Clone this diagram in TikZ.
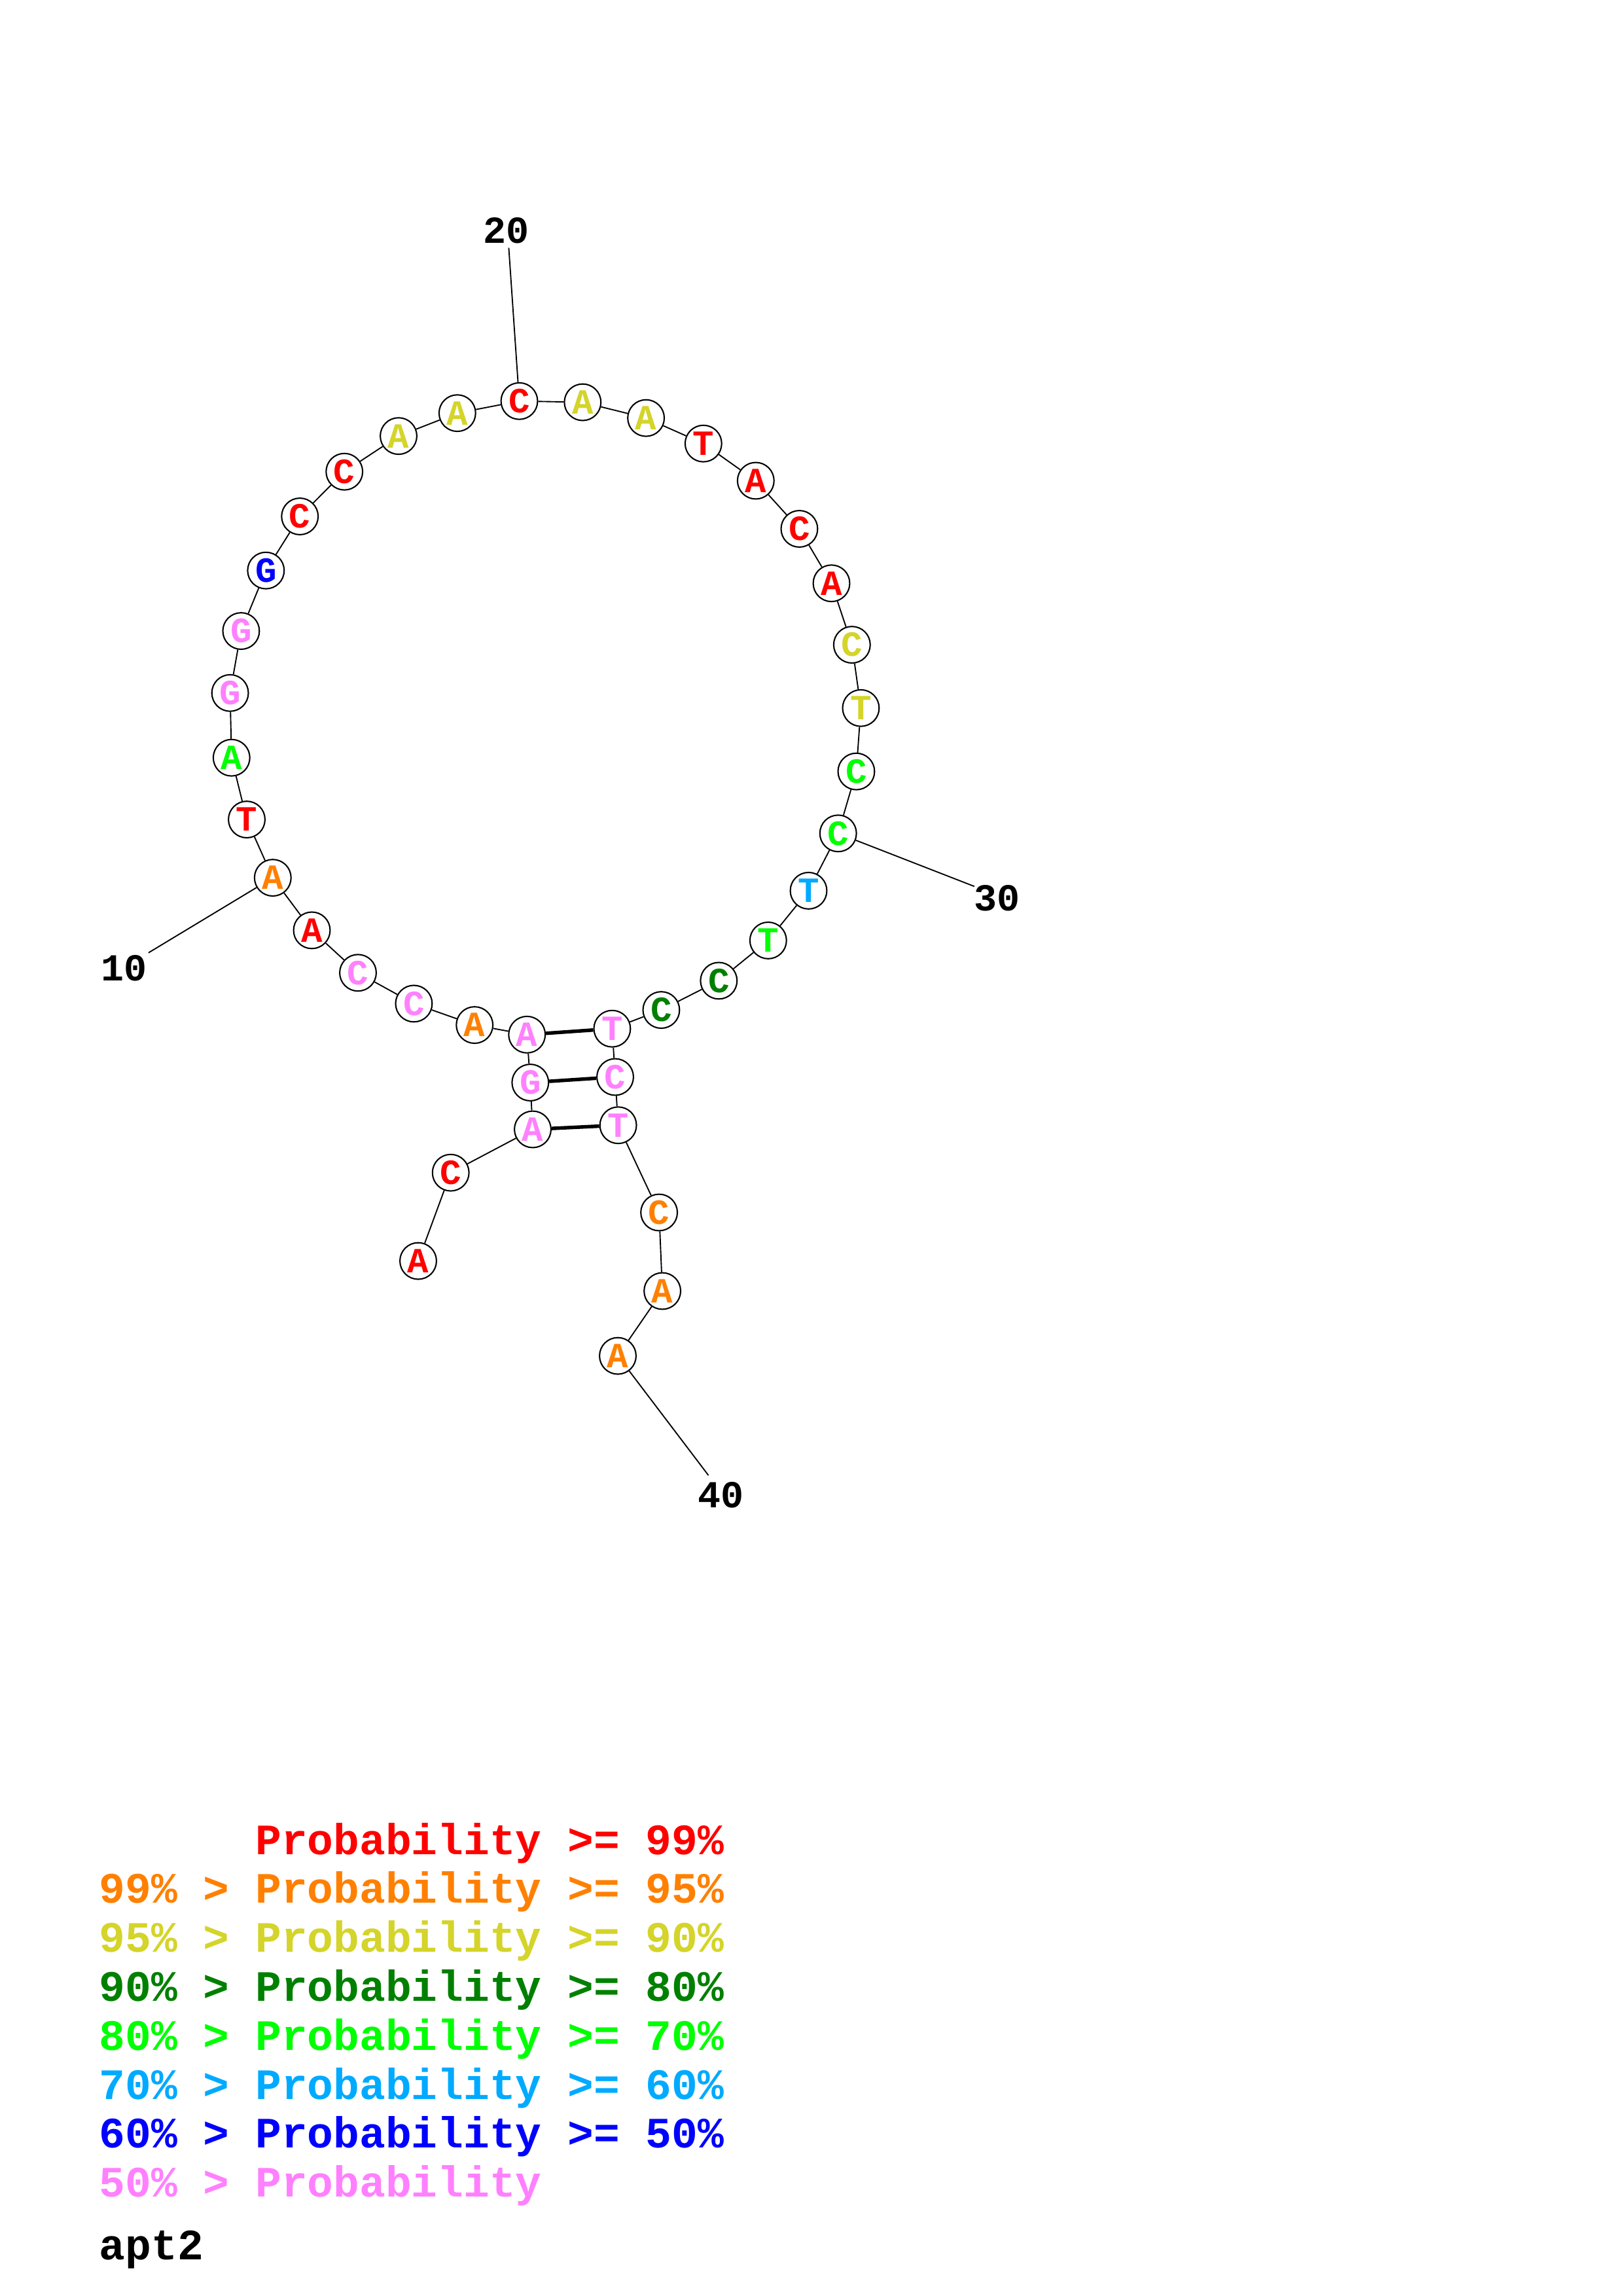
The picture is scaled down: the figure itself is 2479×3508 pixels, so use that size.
\documentclass[tikz,border=0pt]{standalone}
\usepackage{fontspec}
\newfontfamily\cour{Liberation Mono}
\definecolor{cR}{RGB}{255,0,0}
\definecolor{cO}{RGB}{255,128,0}
\definecolor{cY}{RGB}{212,212,42}
\definecolor{cD}{RGB}{0,128,0}
\definecolor{cG}{RGB}{0,255,0}
\definecolor{cC}{RGB}{0,170,255}
\definecolor{cB}{RGB}{0,0,255}
\definecolor{cP}{RGB}{255,128,255}
\begin{document}
\begin{tikzpicture}[x=0.24pt,y=-0.24pt,
  nt/.style={circle,draw,line width=0.5pt,fill=white,minimum size=13.4pt,inner sep=0pt,
    font=\cour\bfseries\fontsize{13}{13}\selectfont},
  bb/.style={line width=0.45pt},
  bp/.style={line width=1.3pt},
  num/.style={inner sep=0pt,font=\cour\bfseries\fontsize{14}{14}\selectfont},
  leg/.style={anchor=base west,inner sep=0pt,font=\cour\bfseries\fontsize{15.9}{15.9}\selectfont}]
\path[use as bounding box] (0,0) rectangle (2479,3508);
% nucleotides
\node[nt,text=cR] (n1) at (639.0,1926.6) {A};
\node[nt,text=cR] (n2) at (688.7,1791.7) {C};
\node[nt,text=cP] (n3) at (814.0,1725.5) {A};
\node[nt,text=cP] (n4) at (810.3,1654.0) {G};
\node[nt,text=cP] (n5) at (805.2,1580.8) {A};
\node[nt,text=cO] (n6) at (725.2,1566.1) {A};
\node[nt,text=cP] (n7) at (632.4,1533.4) {C};
\node[nt,text=cP] (n8) at (547.0,1486.3) {C};
\node[nt,text=cR] (n9) at (476.5,1421.4) {A};
\node[nt,text=cO] (n10) at (416.8,1341.1) {A};
\node[nt,text=cR] (n11) at (377.0,1252.1) {T};
\node[nt,text=cG] (n12) at (353.8,1157.7) {A};
\node[nt,text=cP] (n13) at (351.6,1058.8) {G};
\node[nt,text=cP] (n14) at (368.4,964.1) {G};
\node[nt,text=cB] (n15) at (406.3,871.7) {G};
\node[nt,text=cR] (n16) at (458.2,789.0) {C};
\node[nt,text=cR] (n17) at (526.2,720.7) {C};
\node[nt,text=cY] (n18) at (609.0,666.2) {A};
\node[nt,text=cY] (n19) at (698.8,631.2) {A};
\node[nt,text=cR] (n20) at (793.5,612.8) {C};
\node[nt,text=cY] (n21) at (890.3,614.6) {A};
\node[nt,text=cY] (n22) at (987.1,638.7) {A};
\node[nt,text=cR] (n23) at (1074.8,677.7) {T};
\node[nt,text=cR] (n24) at (1154.8,734.5) {A};
\node[nt,text=cR] (n25) at (1221.4,808.0) {C};
\node[nt,text=cR] (n26) at (1270.5,891.2) {A};
\node[nt,text=cY] (n27) at (1301.8,985.1) {C};
\node[nt,text=cY] (n28) at (1315.4,1081.8) {T};
\node[nt,text=cG] (n29) at (1308.4,1178.7) {C};
\node[nt,text=cG] (n30) at (1280.7,1273.3) {C};
\node[nt,text=cC] (n31) at (1235.5,1360.9) {T};
\node[nt,text=cG] (n32) at (1173.8,1436.9) {T};
\node[nt,text=cD] (n33) at (1098.3,1498.4) {C};
\node[nt,text=cD] (n34) at (1010.4,1543.1) {C};
\node[nt,text=cP] (n35) at (935.4,1571.7) {T};
\node[nt,text=cP] (n36) at (940.0,1645.5) {C};
\node[nt,text=cP] (n37) at (944.6,1719.2) {T};
\node[nt,text=cO] (n38) at (1007.1,1852.5) {C};
\node[nt,text=cO] (n39) at (1012.1,1972.5) {A};
\node[nt,text=cO] (n40) at (944.0,2071.6) {A};
% backbone
\foreach \a/\b in {1/2,2/3,3/4,4/5,5/6,6/7,7/8,8/9,9/10,10/11,11/12,12/13,13/14,14/15,15/16,16/17,17/18,18/19,19/20,20/21,21/22,22/23,23/24,24/25,25/26,26/27,27/28,28/29,29/30,30/31,31/32,32/33,33/34,34/35,35/36,36/37,37/38,38/39,39/40}
  \draw[bb] (n\a) -- (n\b);
% base pairs
\draw[bp] (n5) -- (n35);
\draw[bp] (n4) -- (n36);
\draw[bp] (n3) -- (n37);
% numbering
\coordinate (t10) at (226.9,1455.7);
\coordinate (t20) at (777.4,378.6);
\coordinate (t30) at (1488.8,1354.3);
\coordinate (t40) at (1082.5,2254.1);
\draw[bb] (n10) -- (t10);
\draw[bb] (n20) -- (t20);
\draw[bb] (n30) -- (t30);
\draw[bb] (n40) -- (t40);
\node[num] (l10) at (189.5,1479.2) {10};
\node[num] (l20) at (773.2,352.0) {20};
\node[num] (l30) at (1523.7,1372.0) {30};
\node[num] (l40) at (1101.5,2284.0) {40};
% legend
\node[leg,text=cR] (g1) at (151,2833) {\phantom{99\% > }Probability >= 99\%};
\node[leg,text=cO] (g2) at (151,2907.8) {99\% > Probability >= 95\%};
\node[leg,text=cY] (g3) at (151,2982.6) {95\% > Probability >= 90\%};
\node[leg,text=cD] (g4) at (151,3057.4) {90\% > Probability >= 80\%};
\node[leg,text=cG] (g5) at (151,3132.2) {80\% > Probability >= 70\%};
\node[leg,text=cC] (g6) at (151,3207.0) {70\% > Probability >= 60\%};
\node[leg,text=cB] (g7) at (151,3281.8) {60\% > Probability >= 50\%};
\node[leg,text=cP] (g8) at (151,3356.6) {50\% > Probability};
\node[leg,text=black] (g9) at (151,3452.5) {apt2};
\end{tikzpicture}
\end{document}
